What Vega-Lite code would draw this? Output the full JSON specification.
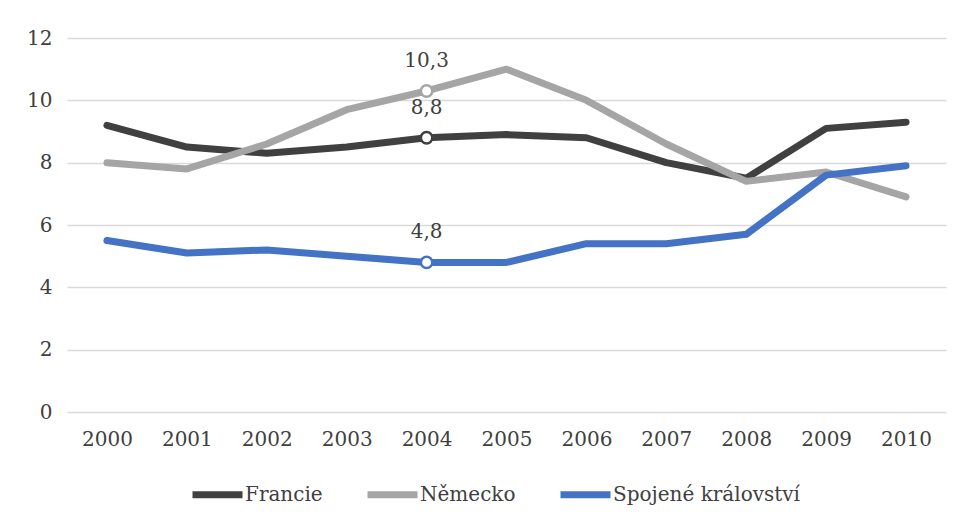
{
  "$schema": "https://vega.github.io/schema/vega-lite/v6.json",
  "width": 879,
  "height": 374,
  "autosize": {"type": "none"},
  "padding": {"left": 67, "top": 38, "right": 16, "bottom": 109},
  "background": "white",
  "config": {
    "locale": {"number": {"decimal": ",", "thousands": " ", "grouping": [3], "currency": ["", ""]}},
    "font": "DejaVu Serif",
    "view": {"stroke": null}
  },
  "data": {
    "values": [
      {"year": "2000", "country": "Francie", "value": 9.2},
      {"year": "2001", "country": "Francie", "value": 8.5},
      {"year": "2002", "country": "Francie", "value": 8.3},
      {"year": "2003", "country": "Francie", "value": 8.5},
      {"year": "2004", "country": "Francie", "value": 8.8},
      {"year": "2005", "country": "Francie", "value": 8.9},
      {"year": "2006", "country": "Francie", "value": 8.8},
      {"year": "2007", "country": "Francie", "value": 8.0},
      {"year": "2008", "country": "Francie", "value": 7.5},
      {"year": "2009", "country": "Francie", "value": 9.1},
      {"year": "2010", "country": "Francie", "value": 9.3},
      {"year": "2000", "country": "Německo", "value": 8.0},
      {"year": "2001", "country": "Německo", "value": 7.8},
      {"year": "2002", "country": "Německo", "value": 8.6},
      {"year": "2003", "country": "Německo", "value": 9.7},
      {"year": "2004", "country": "Německo", "value": 10.3},
      {"year": "2005", "country": "Německo", "value": 11.0},
      {"year": "2006", "country": "Německo", "value": 10.0},
      {"year": "2007", "country": "Německo", "value": 8.6},
      {"year": "2008", "country": "Německo", "value": 7.4},
      {"year": "2009", "country": "Německo", "value": 7.7},
      {"year": "2010", "country": "Německo", "value": 6.9},
      {"year": "2000", "country": "Spojené království", "value": 5.5},
      {"year": "2001", "country": "Spojené království", "value": 5.1},
      {"year": "2002", "country": "Spojené království", "value": 5.2},
      {"year": "2003", "country": "Spojené království", "value": 5.0},
      {"year": "2004", "country": "Spojené království", "value": 4.8},
      {"year": "2005", "country": "Spojené království", "value": 4.8},
      {"year": "2006", "country": "Spojené království", "value": 5.4},
      {"year": "2007", "country": "Spojené království", "value": 5.4},
      {"year": "2008", "country": "Spojené království", "value": 5.7},
      {"year": "2009", "country": "Spojené království", "value": 7.6},
      {"year": "2010", "country": "Spojené království", "value": 7.9}
    ]
  },
  "encoding": {
    "x": {
      "field": "year", "type": "ordinal",
      "scale": {"type": "point", "padding": 0.5},
      "axis": {"title": null, "labelAngle": 0, "labelFontSize": 20, "labelColor": "#404040", "labelPadding": 17, "ticks": false, "domain": false, "grid": false}
    },
    "y": {
      "field": "value", "type": "quantitative",
      "scale": {"domain": [0, 12]},
      "axis": {"title": null, "values": [0, 2, 4, 6, 8, 10, 12], "labelFontSize": 20, "labelColor": "#404040", "labelPadding": 15, "ticks": false, "domain": false, "gridColor": "#D9D9D9", "gridWidth": 1.3}
    },
    "color": {
      "field": "country", "type": "nominal",
      "scale": {"domain": ["Francie", "Německo", "Spojené království"], "range": ["#404040", "#A5A5A5", "#4472C4"]},
      "legend": {
        "title": null, "orient": "none", "direction": "horizontal",
        "legendX": 122, "legendY": 428,
        "symbolType": "stroke", "symbolSize": 2500, "symbolStrokeWidth": 7,
        "labelFontSize": 20, "labelColor": "#404040", "labelOffset": -1, "labelLimit": 400, "columnPadding": 30
      }
    }
  },
  "layer": [
    {
      "mark": {"type": "line", "strokeWidth": 7, "strokeCap": "round", "strokeJoin": "round"},
      "encoding": {"order": {"field": "year"}}
    },
    {
      "transform": [{"filter": "datum.year == '2004'"}],
      "mark": {"type": "point", "filled": false, "fill": "white", "fillOpacity": 1, "strokeWidth": 2.5, "size": 130, "opacity": 1},
      "encoding": {}
    },
    {
      "transform": [{"filter": "datum.year == '2004'"}],
      "mark": {"type": "text", "dy": -30, "fontSize": 20, "color": "#404040"},
      "encoding": {"text": {"field": "value", "type": "quantitative", "format": ".1f"}, "color": {"value": "#404040"}}
    }
  ]
}
